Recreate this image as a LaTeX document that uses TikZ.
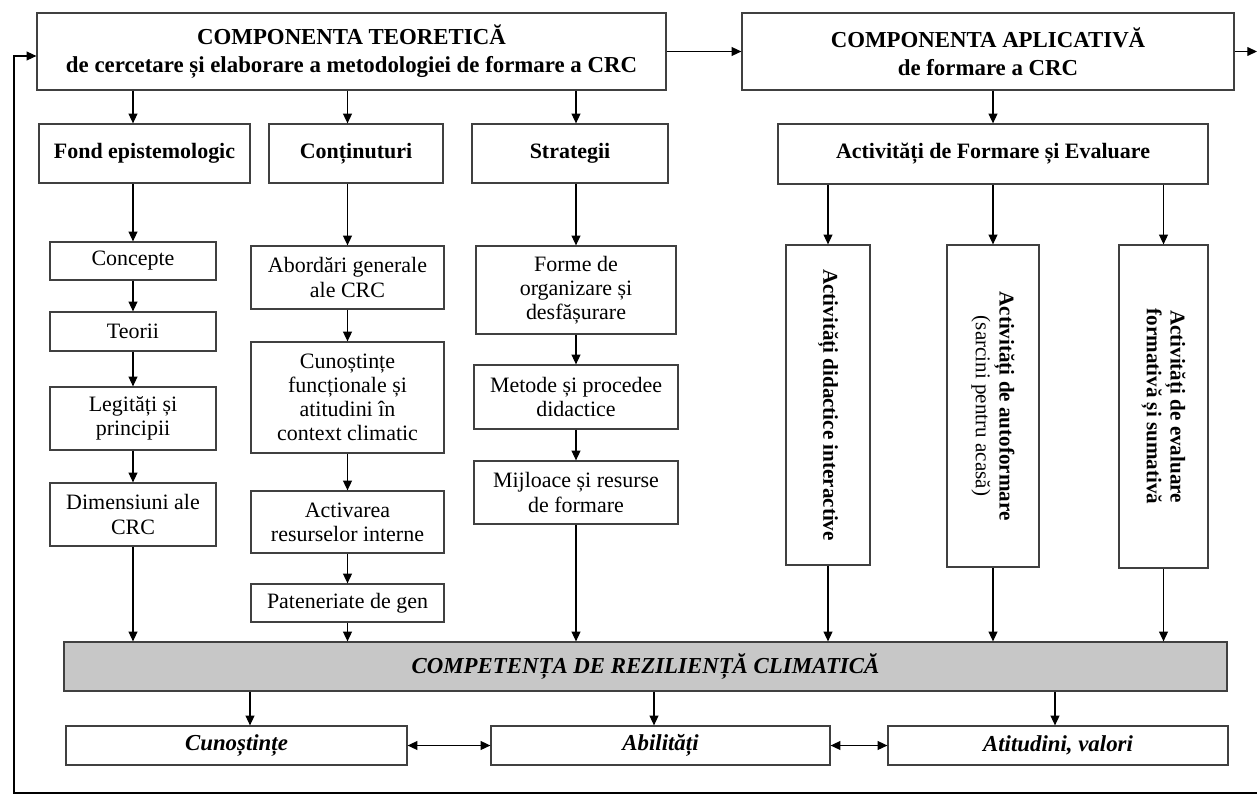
\documentclass[tikz,border=0pt]{standalone}
\usepackage{fontspec}
\setmainfont{Liberation Serif}
\usetikzlibrary{positioning, arrows.meta, calc}

\begin{document}
\begin{tikzpicture}[x=0.02cm, y=-0.02cm, >={Triangle[length=5.5pt, width=5pt]}, line width=0.7pt]

  % --- CONFIGURARI GENERALE ---
  \def\u{0.02cm}
  \useasboundingbox (0,0) rectangle (1257,794);

  % Stiluri pentru casete
  \tikzstyle{caseta}=[draw=black!75, align=center, inner sep=2pt, font=\fontsize{12.5}{13.7}\selectfont]
  \tikzstyle{titlu}=[caseta, font=\fontsize{13}{15.9}\selectfont\bfseries]
  \tikzstyle{antet}=[caseta, font=\fontsize{12.5}{14}\selectfont\bfseries]
  \tikzstyle{vert}=[caseta, rotate=-90, font=\fontsize{12}{13.5}\selectfont]
  \tikzstyle{rez}=[caseta, font=\fontsize{13}{15}\selectfont\bfseries\itshape]
  \tikzset{dim/.style 2 args={minimum width=#1*\u, minimum height=#2*\u}}

  % --- COMPONENTE (sus) ---
  \node[titlu, dim={629}{77}] (teor) at (351.5,51.5) {COMPONENTA TEORETICĂ\\de cercetare și elaborare a metodologiei de formare a CRC};
  \node[titlu, dim={492}{77}] (apl) at (988,51.5) {COMPONENTA APLICATIVĂ\\de formare a CRC};

  % --- NIVELUL 2 ---
  \node[antet, dim={211}{59}] (fond) at (144.5,153.5) {Fond epistemologic};
  \node[antet, dim={174}{59}] (cont) at (356,153.5) {Conținuturi};
  \node[antet, dim={196}{59}] (strat) at (570,153.5) {Strategii};
  \node[antet, dim={430}{60}] (actfe) at (993,154) {Activități de Formare și Evaluare};

  % Fond epistemologic
  \node[caseta, dim={166}{38}] (conc) at (133,261) {Concepte};
  \node[caseta, dim={166}{39}] (teorii) at (133,331.5) {Teorii};
  \node[caseta, dim={166}{63}] (legit) at (133,418.5) {Legități și\\principii};
  \node[caseta, dim={166}{63}] (dimens) at (133,514.5) {Dimensiuni ale\\CRC};

  % Continuturi
  \node[caseta, dim={193}{63}] (abord) at (347.5,277.5) {Abordări generale\\ale CRC};
  \node[caseta, dim={193}{111}] (cunf) at (347.5,397.5) {Cunoștințe\\funcționale și\\atitudini în\\context climatic};
  \node[caseta, dim={193}{62}] (activ) at (347.5,522) {Activarea\\resurselor interne};
  \node[caseta, dim={193}{38}] (paten) at (347.5,603) {Pateneriate de gen};

  % Strategii
  \node[caseta, dim={200}{88}] (forme) at (576,290) {Forme de\\organizare și\\desfășurare};
  \node[caseta, dim={204}{64}] (metode) at (576,397) {Metode și procedee\\didactice};
  \node[caseta, dim={204}{63}] (mijl) at (576,492.5) {Mijloace și resurse\\de formare};

  % Activitati (text vertical)
  \node[vert, dim={320}{84}] (did) at (828,405) {\textbf{Activități didactice interactive}};
  \node[vert, dim={322}{92}] (auto) at (993,406) {\textbf{Activități de autoformare}\\(sarcini pentru acasă)};
  \node[vert, dim={323}{89}] (eval) at (1163.5,406.5) {\textbf{Activități de evaluare}\\\textbf{formativă și sumativă}};

  % --- COMPETENTA ---
  \node[rez, dim={1163}{49}, fill=black!22] (comp) at (645.5,666.5) {COMPETENȚA DE REZILIENȚĂ CLIMATICĂ};
  \node[rez, dim={341}{39}] (cun) at (236.5,745.5) {Cunoștințe};
  \node[rez, dim={339}{39}] (abil) at (660.5,745.5) {Abilități};
  \node[rez, dim={340}{39}] (atit) at (1058,745.5) {Atitudini, valori};

  % Puncte libere (marginea figurii)
  \coordinate (iesire) at (1257,49);
  \coordinate (dreapta) at (1257,793);
  \coordinate (stanga) at (14,793);

  % --- SAGETI ---
  \draw[->] (teor) -- (apl);
  \draw[->] (apl.east) -- (apl.east -| iesire);
  \draw[->] (dreapta) -- (stanga) |- ([yshift=-4.5*\u]teor.west);

  \draw[->] (teor.south -| conc) -- (fond.north -| conc);
  \draw[->] (teor.south -| cunf) -- (cont.north -| cunf);
  \draw[->] (teor.south -| forme) -- (strat.north -| forme);
  \draw[->] (apl.south -| auto) -- (actfe.north -| auto);

  \draw[->] (fond.south -| conc) -- (conc);
  \draw[->] (cont.south -| abord) -- (abord);
  \draw[->] (strat.south -| forme) -- (forme);
  \foreach \a/\b in {conc/teorii, teorii/legit, legit/dimens, abord/cunf, cunf/activ, activ/paten, forme/metode, metode/mijl}
    \draw[->] (\a) -- (\b);

  % nodurile rotite: west = sus, east = jos
  \foreach \n in {did, auto, eval} {
    \draw[->] (actfe.south -| \n) -- (\n.west);
    \draw[->] (\n.east) -- (comp.north -| \n);
  }
  \foreach \n in {dimens, paten, mijl}
    \draw[->] (\n.south) -- (comp.north -| \n);

  % spre componentele competentei
  \foreach \n/\dx in {cun/13.5, abil/-6.5, atit/-3}
    \draw[->] ([xshift=\dx*\u]comp.south -| \n) -- ([xshift=\dx*\u]\n.north);
  \draw[<->] (cun) -- (abil);
  \draw[<->] (abil) -- (atit);

\end{tikzpicture}
\end{document}
